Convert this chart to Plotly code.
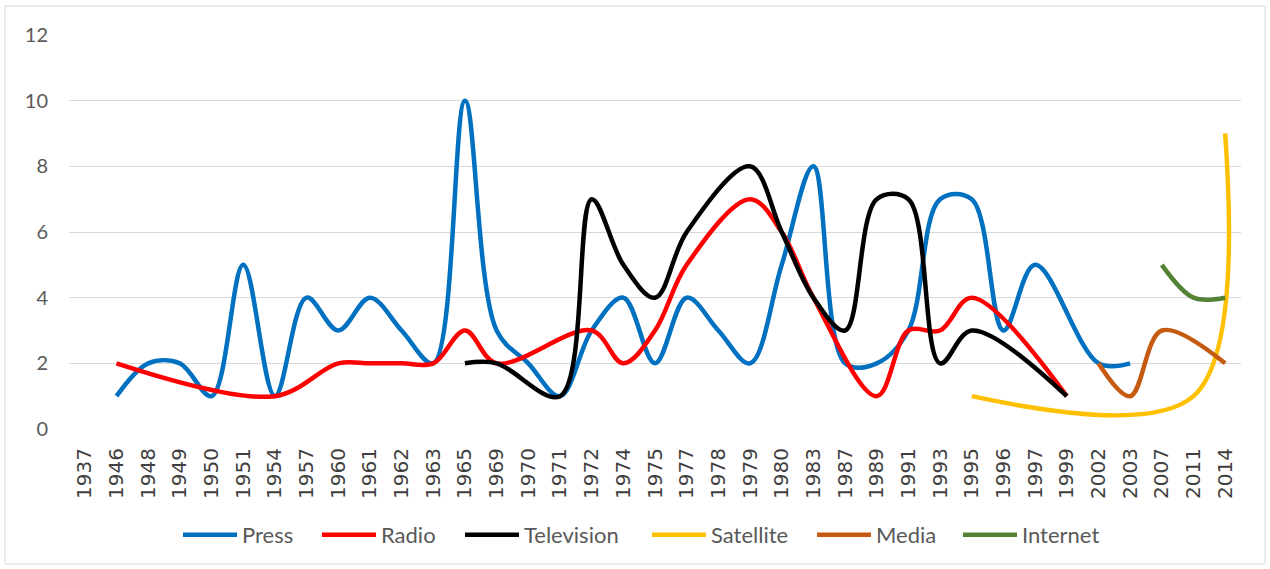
import plotly.graph_objects as go

years = ["1937", "1946", "1948", "1949", "1950", "1951", "1954", "1957", "1960", "1961",
         "1962", "1963", "1965", "1969", "1970", "1971", "1972", "1974", "1975", "1977",
         "1978", "1979", "1980", "1983", "1987", "1989", "1991", "1993", "1995", "1996",
         "1997", "1999", "2002", "2003", "2007", "2011", "2014"]

N = None
press = [N, 1, 2, 2, 1, 5, 1, 4, 3, 4,
         3, 2, 10, 3, 2, 1, 3, 4, 2, 4,
         3, 2, 5, 8, 2, 2, 3, 7, 7, 3,
         5, N, 2, 2, N, N, N]
radio = [N, 2, N, N, N, N, 1, N, 2, 2,
         2, 2, 3, 2, N, N, 3, 2, 3, 5,
         N, 7, 6, 4, N, 1, 3, 3, 4, N,
         N, 1, N, N, N, N, N]
television = [N, N, N, N, N, N, N, N, N, N,
              N, N, 2, 2, N, 1, 7, 5, 4, 6,
              N, 8, 6, 4, 3, 7, 7, 2, 3, N,
              N, 1, N, N, N, N, N]
satellite = [N] * 28 + [1, N, N, N, N, N, N, 1, 9]
media = [N] * 32 + [2, 1, 3, N, 2]
internet = [N] * 34 + [5, 4, 4]

series = [
    ("Press", press, "#0070C0", 70),
    ("Radio", radio, "#FF0000", 74),
    ("Television", television, "#000000", 118),
    ("Satellite", satellite, "#FFC000", 96),
    ("Media", media, "#C55A11", 77),
    ("Internet", internet, "#548235", 84),
]

fig = go.Figure()
for name, vals, col, lw in series:
    fig.add_trace(go.Scatter(
        x=years, y=vals, name=name, mode="lines",
        line=dict(color=col, width=4.5, shape="spline", smoothing=1.0),
        connectgaps=True, legendwidth=lw,
    ))

W, H = 1270, 569
L, R, T, B = 69, 1241, 35, 429

def px(x):
    return (x - L) / (R - L)

def py(y):
    return (B - y) / (B - T)

fig.update_layout(
    width=W, height=H,
    margin=dict(l=L, r=W - R, t=T, b=H - B, autoexpand=False),
    paper_bgcolor="white", plot_bgcolor="white",
    showlegend=True,
    legend=dict(orientation="h", x=px(178), xanchor="left", y=py(535), yanchor="middle",
                font=dict(family="Lato, Open Sans, sans-serif", size=22, color="#595959"),
                itemwidth=54, tracegroupgap=0),
    xaxis=dict(type="category", categoryorder="array", categoryarray=years,
               tickangle=-90, showgrid=False, zeroline=False, showline=False,
               ticks="", tickfont=dict(family="DejaVu Sans", size=20, color="#404040"),
               ticklabelstandoff=14,
               range=[-0.5, len(years) - 0.5]),
    yaxis=dict(range=[0, 12], dtick=2, showgrid=True, gridcolor="#D9D9D9", gridwidth=1,
               zeroline=False, showline=False, ticks="",
               tickfont=dict(family="Lato, Open Sans, sans-serif", size=20, color="#595959"),
               ticklabelstandoff=20),
    shapes=[dict(type="rect", xref="paper", yref="paper",
                 x0=px(5), x1=px(1265), y0=py(564), y1=py(6),
                 line=dict(color="#D9D9D9", width=1), fillcolor="rgba(0,0,0,0)", layer="below")],
)

fig.write_html("out.html", config={"displayModeBar": False},
               post_script="document.body.style.margin='0px';")
